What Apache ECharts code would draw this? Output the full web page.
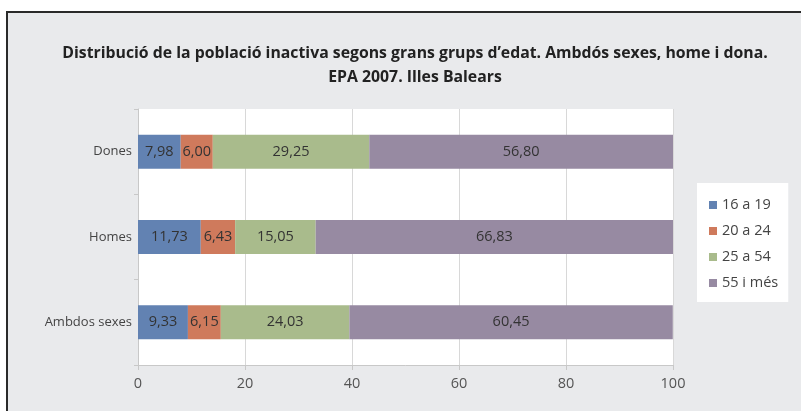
<!DOCTYPE html>
<html><head><meta charset="utf-8">
<script src="https://cdn.jsdelivr.net/npm/echarts@6/dist/echarts.min.js"></script>
<style>html,body{margin:0;padding:0;background:#fff}#c{width:801px;height:411px}</style>
</head><body><div id="c"></div>
<script>
const categories = ['Ambdos sexes', 'Homes', 'Dones'];
const seriesNames = ['16 a 19', '20 a 24', '25 a 54', '55 i més'];
const s16a19 = [9.33, 11.73, 7.98];
const s20a24 = [6.15, 6.43, 6.00];
const s25a54 = [24.03, 15.05, 29.25];
const s55mes = [60.45, 66.83, 56.80];
const xTicks = [0, 20, 40, 60, 80, 100];
const colors = ['#6282b2', '#cf7a5c', '#a9bb8c', '#978aa2'];

const values = [s16a19, s20a24, s25a54, s55mes];
const font = 'Open Sans';
const chart = echarts.init(document.getElementById('c'));
chart.setOption({
  backgroundColor: '#ffffff',
  graphic: [
    {type: 'rect', shape: {x: 7, y: 12, width: 800, height: 420}, style: {fill: '#e9eaec', stroke: '#2a2a2a', lineWidth: 2}, z: -10}
  ],
  title: {
    text: 'Distribució de la població inactiva segons grans grups d’edat. Ambdós sexes, home i dona.\nEPA 2007. Illes Balears',
    left: 410, top: 36, textAlign: 'center',
    textStyle: {fontFamily: font, fontSize: 15.8, fontWeight: 'bold', color: '#222', lineHeight: 24}
  },
  legend: {
    orient: 'vertical', left: 697, top: 183, width: 93, height: 115,
    padding: [13, 10, 10, 12], itemGap: 8, itemWidth: 8, itemHeight: 8,
    backgroundColor: '#ffffff',
    icon: 'rect',
    textStyle: {fontFamily: font, fontSize: 14.5, color: '#444', lineHeight: 18},
    data: seriesNames
  },
  grid: {left: 138, top: 109, width: 535, height: 256, containLabel: false, backgroundColor: '#ffffff', show: true, borderWidth: 0},
  xAxis: {
    type: 'value', min: 0, max: 100, interval: 20,
    axisLine: {show: true, lineStyle: {color: '#c8c8c8'}},
    axisTick: {show: true, length: 5, lineStyle: {color: '#c8c8c8'}},
    splitLine: {show: true, lineStyle: {color: '#d8d8d8'}},
    axisLabel: {fontFamily: font, fontSize: 14.5, color: '#555', margin: 11,
      formatter: v => xTicks.includes(v) ? String(v) : ''}
  },
  yAxis: {
    type: 'category', data: categories,
    axisLine: {show: true, lineStyle: {color: '#c8c8c8'}},
    axisTick: {show: true, length: 4, lineStyle: {color: '#c8c8c8'}},
    axisLabel: {fontFamily: font, fontSize: 13, color: '#444', margin: 6}
  },
  series: seriesNames.map((n, i) => ({
    name: n, type: 'bar', stack: 'total', data: values[i],
    barWidth: 34,
    itemStyle: {color: colors[i]},
    label: {show: true, position: 'inside', fontFamily: font, fontSize: 14.5, color: '#333',
      formatter: p => p.value.toFixed(2).replace('.', ',')}
  }))
});
</script></body></html>
